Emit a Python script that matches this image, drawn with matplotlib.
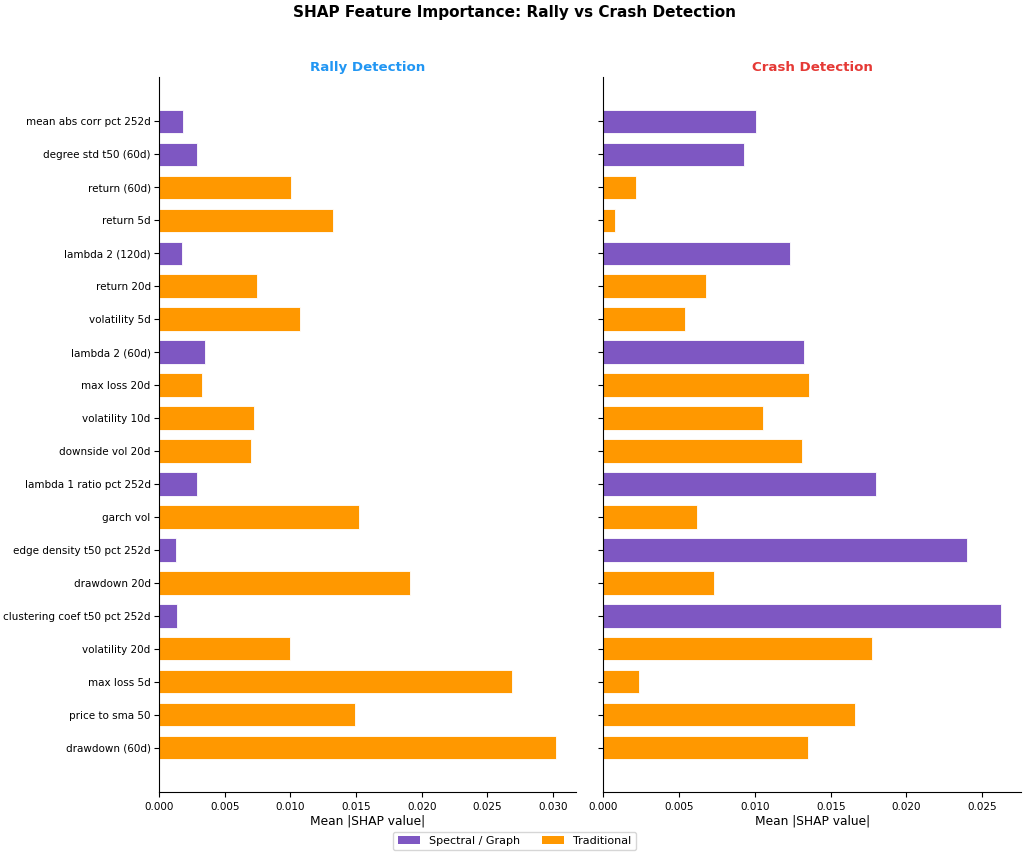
import matplotlib
matplotlib.use("Agg")
import matplotlib.pyplot as plt
from matplotlib.patches import Patch

features = [
    "mean abs corr pct 252d", "degree std t50 (60d)", "return (60d)", "return 5d",
    "lambda 2 (120d)", "return 20d", "volatility 5d", "lambda 2 (60d)",
    "max loss 20d", "volatility 10d", "downside vol 20d", "lambda 1 ratio pct 252d",
    "garch vol", "edge density t50 pct 252d", "drawdown 20d",
    "clustering coef t50 pct 252d", "volatility 20d", "max loss 5d",
    "price to sma 50", "drawdown (60d)",
]
is_spectral = [True, True, False, False, True, False, False, True, False, False,
               False, True, False, True, False, True, False, False, False, False]
rally_shap = [0.00186, 0.0029, 0.01003, 0.01321, 0.00177, 0.00746, 0.01076, 0.00349,
              0.00324, 0.00724, 0.00699, 0.0029, 0.01521, 0.0013, 0.01913, 0.00138,
              0.0100, 0.02685, 0.01493, 0.03025]
crash_shap = [0.01009, 0.00927, 0.00216, 0.00079, 0.01233, 0.00676, 0.0054, 0.01322,
              0.01357, 0.01051, 0.01311, 0.01797, 0.00619, 0.02401, 0.00729, 0.02623,
              0.01771, 0.00233, 0.01661, 0.01348]

SPECTRAL_COLOR = "#7E57C2"
TRAD_COLOR = "#FF9800"
colors = [SPECTRAL_COLOR if s else TRAD_COLOR for s in is_spectral]

n = len(features)
ypos = [n - 1 - i for i in range(n)]

fig, (ax1, ax2) = plt.subplots(1, 2, figsize=(10.29, 8.56), dpi=100, sharey=True)
fig.subplots_adjust(left=0.1545, right=0.992, top=0.910, bottom=0.0748, wspace=0.065)

for ax, vals, title, tcol in [(ax1, rally_shap, "Rally Detection", "#2196F3"),
                              (ax2, crash_shap, "Crash Detection", "#E53935")]:
    ax.barh(ypos, vals, height=0.7, color=colors, edgecolor="white", linewidth=0.6)
    ax.set_title(title, fontsize=9.6, fontweight="bold", color=tcol, pad=4)
    ax.set_xlabel("Mean |SHAP value|", fontsize=8.8, labelpad=2)
    ax.spines["top"].set_visible(False)
    ax.spines["right"].set_visible(False)
    ax.tick_params(axis="both", labelsize=7.5)
    ax.tick_params(axis="y", pad=2.5)

ax1.set_yticks(ypos)
ax1.set_yticklabels(features)
ax2.tick_params(axis="y", labelleft=False)

fig.suptitle("SHAP Feature Importance: Rally vs Crash Detection", fontsize=11,
             fontweight="bold", y=0.994)

handles = [Patch(facecolor=SPECTRAL_COLOR, label="Spectral / Graph"),
           Patch(facecolor=TRAD_COLOR, label="Traditional")]
fig.legend(handles=handles, loc="lower center", ncol=2, fontsize=8,
           bbox_to_anchor=(0.5, 0.0), frameon=True)

fig.savefig("out.png", dpi=100)
